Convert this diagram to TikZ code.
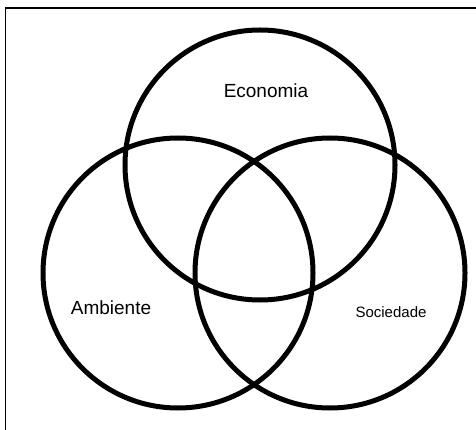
\documentclass[tikz,border=0pt]{standalone}
\usepackage{fontspec}
\setmainfont{Liberation Sans}
\begin{document}
\begin{tikzpicture}[x=1pt,y=-1pt,
  ring/.style={draw=black,line width=5pt,circle,minimum size=270pt,inner sep=0pt},
  label/.style={text=black,inner sep=0pt,font=\fontsize{19}{22}\selectfont},
  frame/.style={draw=black,line width=1.6pt}]
\useasboundingbox (0,0) rectangle (476,430);
\coordinate (tl) at (5.5,8);
\coordinate (tr) at (476,8);
\coordinate (bl) at (5.5,430);
\draw[frame] (tr) -- (tl) -- (bl);
\node[ring] (eco) at (260,165) {};
\node[ring] (amb) at (178,273) {};
\node[ring] (soc) at (330,273) {};
\node[label] (teco) at (266,90.5) {Economia};
\node[label] (tamb) at (111,308) {Ambiente};
\node[label,font=\fontsize{15}{18}\selectfont] (tsoc) at (391,312) {Sociedade};
\end{tikzpicture}
\end{document}
